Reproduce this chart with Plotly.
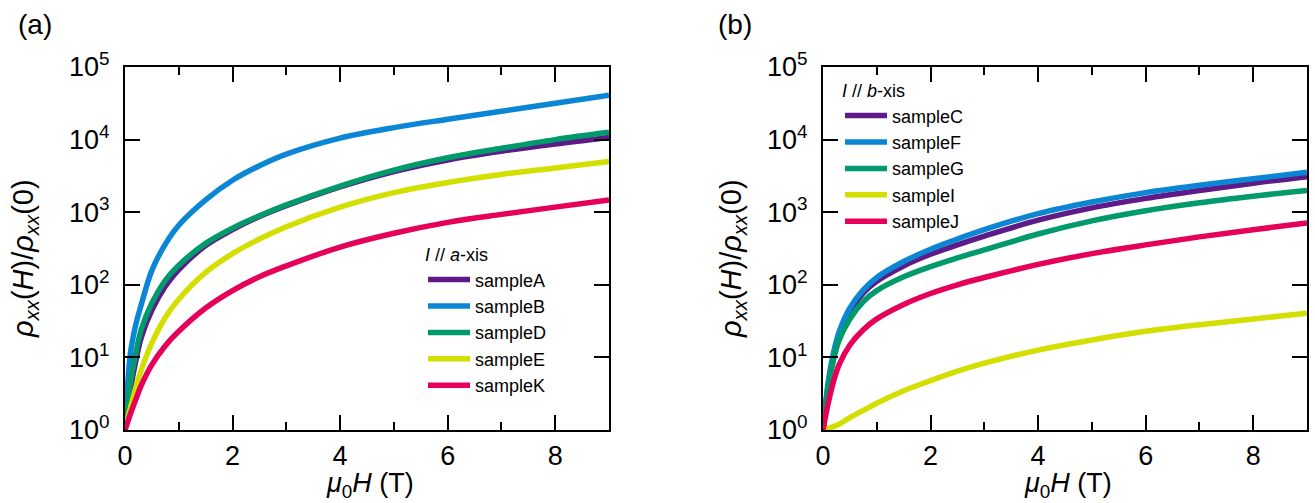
import plotly.graph_objects as go

# Field values (T)
field = [0, 0.1, 0.2, 0.3, 0.5, 0.75, 1, 1.5, 2, 2.5, 3, 4, 5, 6, 7, 8, 9]

# Panel (a): I // a-axis
sampleA = [1, 3.55, 8.91, 18.6, 44.7, 95.5, 162, 347, 575, 871, 1230, 2239, 3631, 5248, 6918, 8710, 10715]
sampleB = [1, 11.2, 28.2, 52.5, 158, 363, 661, 1479, 2754, 4365, 6310, 10471, 14622, 19055, 24547, 31623, 40738]
sampleD = [1, 4.47, 11.2, 24.0, 56.2, 115, 186, 372, 603, 891, 1259, 2291, 3802, 5623, 7586, 10000, 12589]
sampleE = [1, 2.0, 3.80, 6.61, 15.8, 35.5, 63.1, 148, 269, 427, 631, 1175, 1862, 2570, 3311, 4074, 5012]
sampleK = [1, 1.66, 2.63, 4.07, 7.94, 14.5, 22.9, 47.9, 83.2, 129, 182, 331, 513, 724, 933, 1175, 1479]

# Panel (b): I // b-axis
sampleC = [1, 4.17, 10.7, 20.0, 42.7, 77.6, 112, 182, 263, 355, 468, 776, 1148, 1549, 1995, 2512, 3090]
sampleF = [1, 4.79, 12.0, 22.4, 47.9, 85.1, 126, 209, 309, 427, 575, 955, 1380, 1862, 2344, 2884, 3548]
sampleG = [1, 3.98, 9.55, 17.4, 33.9, 58.9, 83.2, 129, 178, 234, 302, 501, 759, 1047, 1349, 1660, 1995]
sampleI = [1, 1.05, 1.12, 1.20, 1.48, 1.86, 2.34, 3.47, 4.79, 6.46, 8.32, 12.6, 17.4, 22.9, 28.2, 33.9, 40.7]
sampleJ = [1, 2.40, 4.79, 7.94, 14.8, 24.0, 33.9, 53.7, 75.9, 100, 126, 191, 269, 355, 457, 575, 708]

names_a = ["sampleA", "sampleB", "sampleD", "sampleE", "sampleK"]
names_b = ["sampleC", "sampleF", "sampleG", "sampleI", "sampleJ"]
series_a = [sampleA, sampleB, sampleD, sampleE, sampleK]
series_b = [sampleC, sampleF, sampleG, sampleI, sampleJ]
colors = ["#5e1a88", "#0a86d4", "#009a6b", "#d3df00", "#e6005a"]

ytickvals = [1, 10, 100, 1000, 10000, 100000]
yticktext = ["10<sup>0</sup>", "10<sup>1</sup>", "10<sup>2</sup>", "10<sup>3</sup>",
             "10<sup>4</sup>", "10<sup>5</sup>"]
xtickvals = [0, 2, 4, 6, 8]

W, H = 1315, 503
FONT = "Liberation Sans, Arial, sans-serif"

fig = go.Figure()
for nm, ys, c in zip(names_a, series_a, colors):
    fig.add_trace(go.Scatter(x=field, y=ys, name=nm, mode="lines",
                             line=dict(color=c, width=5.5, shape="spline"),
                             xaxis="x", yaxis="y", legend="legend"))
for nm, ys, c in zip(names_b, series_b, colors):
    fig.add_trace(go.Scatter(x=field, y=ys, name=nm, mode="lines",
                             line=dict(color=c, width=5.5, shape="spline"),
                             xaxis="x2", yaxis="y2", legend="legend2"))

def px_x(p):
    return p / W

def px_y(p):
    return 1 - p / H

common_ax = dict(showline=True, linecolor="black", linewidth=2, mirror="ticks",
                 ticks="inside", ticklen=15, tickwidth=2, tickcolor="black",
                 showgrid=False, zeroline=False, automargin=False,
                 tickfont=dict(family=FONT, size=27, color="black"))
xax = dict(common_ax, range=[0, 9], tickvals=xtickvals, ticklabelstandoff=1,
           minor=dict(dtick=1, tick0=0, ticks="inside", ticklen=8, tickwidth=2,
                      tickcolor="black", showgrid=False))
yax = dict(common_ax, type="log", range=[0, 5], tickvals=ytickvals, ticktext=yticktext,
           ticklabelstandoff=8)

top, bottom = 67, 430
LEGFONT = 18
fig.update_layout(
    width=W, height=H, margin=dict(l=0, r=0, t=0, b=0),
    paper_bgcolor="white", plot_bgcolor="white",
    font=dict(family=FONT, color="black"),
    xaxis=dict(xax, domain=[px_x(125), px_x(609)], anchor="y"),
    yaxis=dict(yax, domain=[px_y(bottom), px_y(top)], anchor="x"),
    xaxis2=dict(xax, domain=[px_x(823), px_x(1307)], anchor="y2"),
    yaxis2=dict(yax, domain=[px_y(bottom), px_y(top)], anchor="x2"),
    legend=dict(x=px_x(423), y=px_y(238), xanchor="left", yanchor="top",
                bgcolor="rgba(0,0,0,0)", font=dict(family=FONT, size=LEGFONT),
                itemwidth=42,
                title=dict(text="<i>I</i> // <i>a</i>-xis", font=dict(family=FONT, size=LEGFONT))),
    legend2=dict(x=px_x(840), y=px_y(74), xanchor="left", yanchor="top",
                 bgcolor="rgba(0,0,0,0)", font=dict(family=FONT, size=LEGFONT),
                 itemwidth=42,
                 title=dict(text="<i>I</i> // <i>b</i>-xis", font=dict(family=FONT, size=LEGFONT))),
    showlegend=True,
)

ytitle = "<i>ρ</i><sub><i>xx</i></sub>(<i>H</i>)/<i>ρ</i><sub><i>xx</i></sub>(0)"
xtitle = "<i>μ</i><sub>0</sub><i>H</i> (T)"
annots = [
    dict(text=ytitle, x=px_x(25), y=px_y(259), textangle=-90),
    dict(text=ytitle, x=px_x(733), y=px_y(259), textangle=-90),
    dict(text=xtitle, x=px_x(370), y=px_y(485), font=dict(family=FONT, size=27)),
    dict(text=xtitle, x=px_x(1068), y=px_y(485), font=dict(family=FONT, size=27)),
    dict(text="(a)", x=px_x(35), y=px_y(25), font=dict(family=FONT, size=28)),
    dict(text="(b)", x=px_x(735), y=px_y(25), font=dict(family=FONT, size=28)),
]
for a in annots:
    a.setdefault("font", dict(family=FONT, size=29))
    fig.add_annotation(xref="paper", yref="paper", showarrow=False,
                       xanchor="center", yanchor="middle", **a)

fig.write_html("out.html")
